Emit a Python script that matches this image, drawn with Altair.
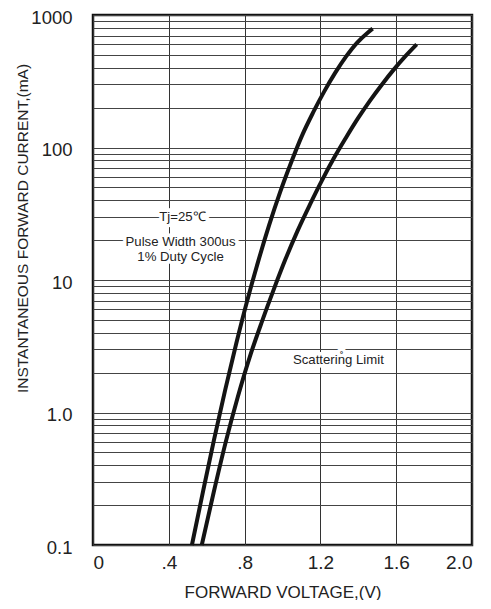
import altair as alt
import pandas as pd

# Curve data (forward voltage V, current mA)
curve_a_v = [0.522, 0.581, 0.639, 0.697, 0.755, 0.813, 0.871, 0.929, 0.987, 1.045,
             1.103, 1.161, 1.219, 1.277, 1.335, 1.393, 1.451, 1.476]
curve_a_i = [0.1, 0.255, 0.627, 1.47, 3.27, 6.9, 13.7, 25.8, 45.8, 76.7,
             123, 183, 263, 364, 485, 617, 739, 790]
curve_b_v = [0.574, 0.637, 0.700, 0.764, 0.827, 0.890, 0.954, 1.017, 1.080, 1.144,
             1.207, 1.270, 1.334, 1.397, 1.460, 1.524, 1.587, 1.650, 1.708]
curve_b_i = [0.1, 0.25, 0.595, 1.31, 2.62, 4.79, 8.5, 14.5, 23.6, 36.9,
             56, 82.5, 118, 165, 224, 298, 387, 491, 600]

x_ticks = [0, 0.4, 0.8, 1.2, 1.6, 2.0]
x_tick_labels = ["0", ".4", ".8", "1.2", "1.6", "2.0"]
y_decades = [0.1, 1, 10, 100, 1000]
y_decade_labels = ["0.1", "1.0", "10", "100", "1000"]

note_text = ["Tj=25\u2103", "Pulse Width 300us", "1% Duty Cycle", "Scatterin\u030ag Limit"]
note_v = [0.472, 0.462, 0.462, 1.295]
note_i = [29.9, 19.5, 15.0, 2.5]

y_grid = []
for e in range(-1, 3):
    for k in range(1, 10):
        y_grid.append(round(k * 10 ** e, 6))
y_grid.append(1000)

rows = []
for v, i in zip(curve_a_v, curve_a_i):
    rows.append({"series": "A", "v": v, "i": i})
for v, i in zip(curve_b_v, curve_b_i):
    rows.append({"series": "B", "v": v, "i": i})
df = pd.DataFrame(rows)
notes = pd.DataFrame({"t": note_text, "v": note_v, "i": note_i})


def expr_for(values, labels):
    s = "''"
    for val, lab in reversed(list(zip(values, labels))):
        s = f"abs(datum.value - {val}) < 1e-9 ? '{lab}' : ({s})"
    return s


font = "Liberation Sans"

x_enc = alt.X(
    "v:Q",
    scale=alt.Scale(domain=[0, 2], nice=False, zero=False),
    axis=alt.Axis(
        values=x_ticks,
        labelExpr=expr_for(x_ticks, x_tick_labels),
        title="FORWARD VOLTAGE,(V)",
        grid=True,
        gridColor="#333333",
        gridWidth=1,
        ticks=False,
        domain=False,
        labelFont=font,
        labelFontSize=19,
        labelColor="#222",
        labelPadding=8,
        titleFont=font,
        titleFontSize=17,
        titleFontWeight="normal",
        titleColor="#222",
        titleBaseline="alphabetic",
        titleY=52,
    ),
)
y_enc = alt.Y(
    "i:Q",
    scale=alt.Scale(type="log", domain=[0.1, 1000], nice=False),
    axis=alt.Axis(
        values=y_grid,
        labelExpr=expr_for(y_decades, y_decade_labels),
        labelOverlap=False,
        title="INSTANTANEOUS FORWARD CURRENT,(mA)",
        grid=True,
        gridColor="#444444",
        gridWidth=1,
        ticks=False,
        domain=False,
        labelFont=font,
        labelFontSize=18.5,
        labelColor="#222",
        labelPadding=21,
        labelOffset=2,
        titleFont=font,
        titleFontSize=15.5,
        titleFontWeight="normal",
        titleColor="#222",
        titleBaseline="alphabetic",
        titleX=-66,
        titleY=213,
    ),
)

lines = alt.Chart(df).mark_line(interpolate="monotone", strokeWidth=4, color="#141414").encode(
    x=x_enc, y=y_enc, detail="series:N"
)

halo = alt.Chart(notes).mark_text(
    font=font, fontSize=13.2, stroke="white", strokeWidth=7, fill="white"
).encode(x="v:Q", y="i:Q", text="t:N")

labels = alt.Chart(notes).mark_text(font=font, fontSize=13.2, color="#222").encode(
    x="v:Q", y="i:Q", text="t:N"
)

chart = alt.layer(lines, halo, labels).properties(
    width=379,
    height=530,
    autosize=alt.AutoSizeParams(type="none"),
    padding={"left": 85, "top": 7, "right": 11, "bottom": 55},
    background="white",
).configure_view(stroke="#111111", strokeWidth=2.5)

chart.save("out.html", embed_options={"renderer": "svg", "actions": False})
